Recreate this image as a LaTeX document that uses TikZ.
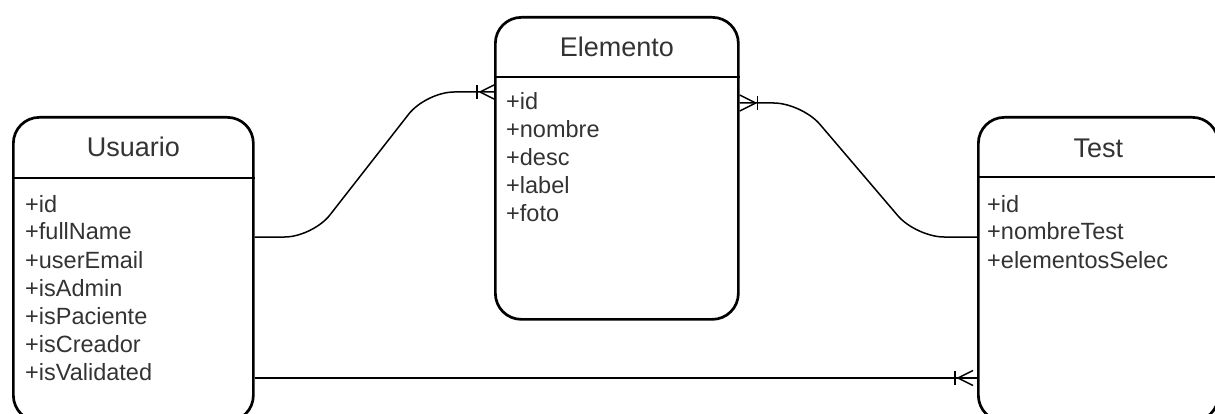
\documentclass[tikz,border=0pt]{standalone}
\usepackage{fontspec}
\setmainfont{Liberation Sans}
\usetikzlibrary{calc}
\definecolor{txt}{HTML}{333333}
\begin{document}
\begin{tikzpicture}[x=1pt,y=-1pt,
  entity/.style={draw=black, line width=2.7pt, rounded corners=26pt,
    minimum width=240pt, anchor=north west, inner sep=0pt},
  divider/.style={draw=black, line width=2.7pt},
  head/.style={anchor=base, inner sep=0pt, text=txt, font=\fontsize{27}{32}\selectfont},
  attr/.style={anchor=base west, inner sep=0pt, text=txt, font=\fontsize{23.5}{28}\selectfont},
  conn/.style={draw=black, line width=1.5pt},
  link/.style={conn, rounded corners=28pt}]
\useasboundingbox (0,0) rectangle (1215,414);
\clip (0,0) rectangle (1215,414);

% entity boxes
\node[entity, minimum height=304pt] (usuario) at (12,116) {};
\node[entity, minimum width=243pt, minimum height=302pt] (elemento) at (494,16) {};
\node[entity, minimum height=304pt] (test) at (977,116) {};

% header dividers
\draw[divider] ($(usuario.north west)+(0,62)$) -- ($(usuario.north east)+(0,62)$);
\draw[divider] ($(elemento.north west)+(0,61)$) -- ($(elemento.north east)+(0,61)$);
\draw[divider] ($(test.north west)+(0,61)$) -- ($(test.north east)+(0,61)$);

% titles
\node[head] (usuario-title) at ($(usuario.north)+(0,41)$) {Usuario};
\node[head] (elemento-title) at ($(elemento.north)+(0,41)$) {Elemento};
\node[head] (test-title) at ($(test.north)+(0,42)$) {Test};

% attributes
\foreach \t [count=\i] in {+id,+fullName,+userEmail,+isAdmin,+isPaciente,+isCreador,+isValidated}
  \node[attr] (usuario-a\i) at ($(usuario.north west)+(13,{96+28*(\i-1)})$) {\t};
\foreach \t [count=\i] in {+id,+nombre,+desc,+label,+foto}
  \node[attr] (elemento-a\i) at ($(elemento.north west)+(12,{94+28*(\i-1)})$) {\t};
\foreach \t [count=\i] in {+id,+nombreTest,+elementosSelec}
  \node[attr] (test-a\i) at ($(test.north west)+(10,{96+28*(\i-1)})$) {\t};

% connection points on the box borders
\coordinate (ue1) at ($(usuario.north east)+(0,121)$);
\coordinate (ue2) at ($(usuario.north east)+(0,262)$);
\coordinate (ew) at ($(elemento.north west)+(0,76)$);
\coordinate (ee) at ($(elemento.north east)+(0,87)$);
\coordinate (tw1) at ($(test.north west)+(0,121)$);
\coordinate (tw2) at ($(test.north west)+(0,262)$);

% Usuario -- Elemento
\draw[link] (ue1) -- ($(ue1)+(58,0)$) -- ($(ew)+(-68,0)$) -- (ew);
\draw[conn] ($(ew)+(-14,0)$) -- ($(ew)+(0,-7)$) ($(ew)+(-14,0)$) -- ($(ew)+(0,7)$);
\draw[conn] ($(ew)+(-17,-7)$) -- ($(ew)+(-17,7)$);

% Elemento -- Test
\draw[link] (ee) -- ($(ee)+(62,0)$) -- ($(tw1)+(-61,0)$) -- (tw1);
\draw[conn] ($(ee)+(16,0)$) -- ($(ee)+(0,-8)$) ($(ee)+(16,0)$) -- ($(ee)+(0,8)$);
\draw[conn] ($(ee)+(18,-7)$) -- ($(ee)+(18,7)$);

% Usuario -- Test
\draw[conn] (ue2) -- (tw2);
\draw[conn] ($(tw2)+(-19,0)$) -- ($(tw2)+(-4,-7.5)$) ($(tw2)+(-19,0)$) -- ($(tw2)+(-4,7.5)$);
\draw[conn] ($(tw2)+(-22,-7)$) -- ($(tw2)+(-22,7)$);
\end{tikzpicture}
\end{document}
